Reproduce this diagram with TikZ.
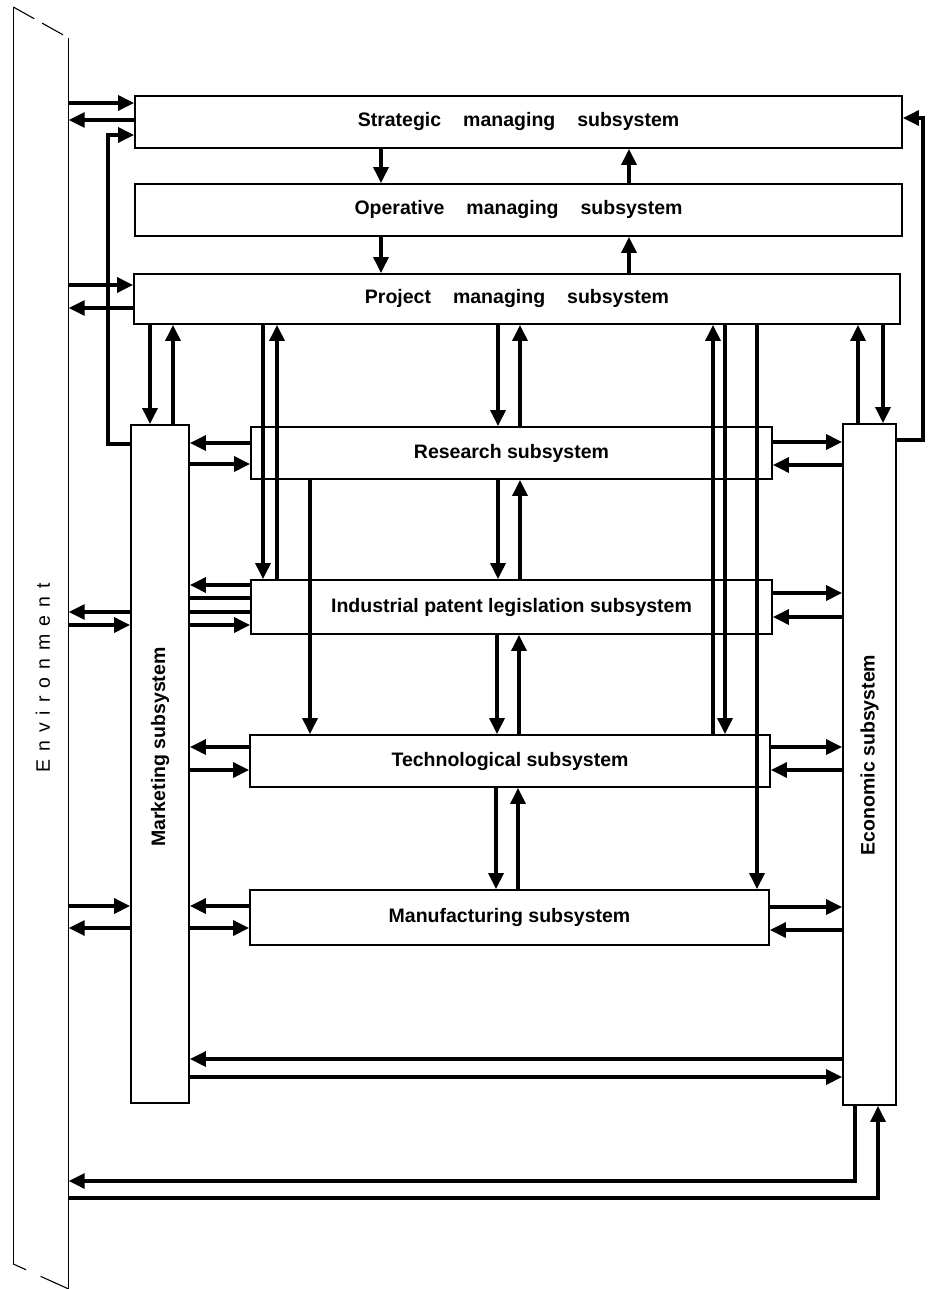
\documentclass[tikz,border=0pt]{standalone}
\usepackage{fontspec}
\setmainfont{Liberation Sans}
\newfontfamily\diafont{Liberation Sans}
\usetikzlibrary{arrows.meta,calc}
\begin{document}
\begin{tikzpicture}[x=1pt,y=-1pt,
  box/.style={draw, line width=1.8pt, fill=white, inner sep=0pt,
              font=\diafont\bfseries\fontsize{19.5}{24}\selectfont},
  arr/.style={line width=3.2pt, -{Triangle[length=16pt,width=15pt]}},
  ln/.style={line width=3.2pt},
  envline/.style={line width=1.1pt},
]
\useasboundingbox (0,0) rectangle (930,1289);

% Environment band
\node[inner sep=0pt, minimum width=55, minimum height=1289, anchor=north] (env) at (41,0) {};
\draw[envline] (env.west |- 0,7) -- (env.west |- 0,1264);
\draw[envline] (env.east |- 0,38) -- (env.east |- 0,1289);
\draw[envline, dash pattern=on 24pt off 9pt] (env.west |- 0,7) -- (env.east |- 0,38);
\draw[envline, dash pattern=on 14pt off 16pt on 30pt] (env.west |- 0,1264) -- (env.east |- 0,1289);
\node[rotate=90, font=\fontsize{19.5}{22}\selectfont, inner sep=0pt] (envtext) at (43,678)
  {E\hspace{8pt}n\hspace{8pt}v\hspace{8pt}i\hspace{8pt}r\hspace{8pt}o\hspace{8pt}n\hspace{8pt}m\hspace{8pt}e\hspace{8pt}n\hspace{8pt}t};

% Boxes
\node[box, minimum width=767, minimum height=52] (strat) at (518.5,122)
  {Strategic\hspace{22pt}managing\hspace{22pt}subsystem};
\node[box, minimum width=767, minimum height=52] (oper) at (518.5,210)
  {Operative\hspace{22pt}managing\hspace{22pt}subsystem};
\node[box, minimum width=766, minimum height=50] (proj) at (517,299)
  {Project\hspace{22pt}managing\hspace{22pt}subsystem};
\node[box, minimum width=521, minimum height=52] (res) at (511.5,453) {Research subsystem};
\node[box, minimum width=521, minimum height=54] (pat) at (511.5,607) {Industrial patent legislation subsystem};
\node[box, minimum width=520, minimum height=52] (tech) at (510,761) {Technological subsystem};
\node[box, minimum width=519, minimum height=55] (manu) at (509.5,917.5) {Manufacturing subsystem};
\node[box, minimum width=58, minimum height=678] (mark) at (160,764) {\rotatebox{90}{\hspace*{34pt}Marketing subsystem}};
\node[box, minimum width=53, minimum height=681] (econ) at (869.5,764.5) {\rotatebox{90}{\hspace*{19pt}Economic subsystem}};

% Top connectors
\draw[arr] (env.east |- 0,103) -- (strat.west |- 0,103);
\draw[arr] (strat.west |- 0,120) -- (env.east |- 0,120);
\draw[arr] (mark.west |- 0,444) -| (108,135) -- (strat.west |- 0,135);
\draw[arr] (strat.south -| 381,0) -- (oper.north -| 381,0);
\draw[arr] (oper.north -| 629,0) -- (strat.south -| 629,0);
\draw[arr] (oper.south -| 381,0) -- (proj.north -| 381,0);
\draw[arr] (proj.north -| 629,0) -- (oper.south -| 629,0);
\draw[arr] (env.east |- 0,285) -- (proj.west |- 0,285);
\draw[arr] (proj.west |- 0,308) -- (env.east |- 0,308);
\draw[arr] (econ.east |- 0,440) -| (923,118) -- (strat.east |- 0,118);

% Project to lower subsystems
\draw[arr] (proj.south -| 150,0) -- (mark.north -| 150,0);
\draw[arr] (mark.north -| 173,0) -- (proj.south -| 173,0);
\draw[arr] (proj.south -| 263,0) -- (pat.north -| 263,0);
\draw[arr] (pat.north -| 277,0) -- (proj.south -| 277,0);
\draw[arr] (res.south -| 310,0) -- (tech.north -| 310,0);
\draw[arr] (proj.south -| 498,0) -- (res.north -| 498,0);
\draw[arr] (res.north -| 520,0) -- (proj.south -| 520,0);
\draw[arr] (res.south -| 498,0) -- (pat.north -| 498,0);
\draw[arr] (pat.north -| 520,0) -- (res.south -| 520,0);
\draw[arr] (pat.south -| 497,0) -- (tech.north -| 497,0);
\draw[arr] (tech.north -| 519,0) -- (pat.south -| 519,0);
\draw[arr] (tech.south -| 496,0) -- (manu.north -| 496,0);
\draw[arr] (manu.north -| 518,0) -- (tech.south -| 518,0);
\draw[arr] (tech.north -| 713,0) -- (proj.south -| 713,0);
\draw[arr] (proj.south -| 725,0) -- (tech.north -| 725,0);
\draw[arr] (proj.south -| 757,0) -- (manu.north -| 757,0);
\draw[arr] (econ.north -| 858,0) -- (proj.south -| 858,0);
\draw[arr] (proj.south -| 883,0) -- (econ.north -| 883,0);

% Marketing side
\draw[arr] (res.west |- 0,443) -- (mark.east |- 0,443);
\draw[arr] (mark.east |- 0,464) -- (res.west |- 0,464);
\draw[arr] (pat.west |- 0,585) -- (mark.east |- 0,585);
\draw[ln] (mark.east |- 0,598) -- (pat.west |- 0,598);
\draw[ln] (mark.east |- 0,612) -- (pat.west |- 0,612);
\draw[arr] (mark.east |- 0,625) -- (pat.west |- 0,625);
\draw[arr] (mark.west |- 0,612) -- (env.east |- 0,612);
\draw[arr] (env.east |- 0,625) -- (mark.west |- 0,625);
\draw[arr] (tech.west |- 0,747) -- (mark.east |- 0,747);
\draw[arr] (mark.east |- 0,770) -- (tech.west |- 0,770);
\draw[arr] (manu.west |- 0,906) -- (mark.east |- 0,906);
\draw[arr] (mark.east |- 0,928) -- (manu.west |- 0,928);
\draw[arr] (env.east |- 0,906) -- (mark.west |- 0,906);
\draw[arr] (mark.west |- 0,928) -- (env.east |- 0,928);

% Economic side
\draw[arr] (res.east |- 0,442) -- (econ.west |- 0,442);
\draw[arr] (econ.west |- 0,465) -- (res.east |- 0,465);
\draw[arr] (pat.east |- 0,593) -- (econ.west |- 0,593);
\draw[arr] (econ.west |- 0,617) -- (pat.east |- 0,617);
\draw[arr] (tech.east |- 0,747) -- (econ.west |- 0,747);
\draw[arr] (econ.west |- 0,770) -- (tech.east |- 0,770);
\draw[arr] (manu.east |- 0,907) -- (econ.west |- 0,907);
\draw[arr] (econ.west |- 0,930) -- (manu.east |- 0,930);

% Bottom
\draw[arr] (econ.west |- 0,1059) -- (mark.east |- 0,1059);
\draw[arr] (mark.east |- 0,1077) -- (econ.west |- 0,1077);
\draw[arr] (econ.south -| 855,0) |- (env.east |- 0,1181);
\draw[arr] (env.east |- 0,1198) -| (econ.south -| 878,0);
\end{tikzpicture}
\end{document}
